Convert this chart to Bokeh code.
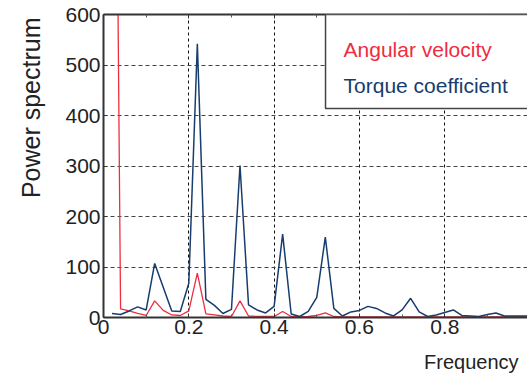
import math
from bokeh.plotting import figure
from bokeh.models import (Range1d, LinearAxis, FixedTicker, CustomJSTickFormatter,
                          BoxAnnotation, Label, Title)
from bokeh.embed import file_html
from bokeh.resources import INLINE

freq = [0.02, 0.04, 0.06, 0.08, 0.10, 0.12, 0.14, 0.16, 0.18, 0.20,
        0.22, 0.24, 0.26, 0.28, 0.30, 0.32, 0.34, 0.36, 0.38, 0.40,
        0.42, 0.44, 0.46, 0.48, 0.50, 0.52, 0.54, 0.56, 0.58, 0.60,
        0.62, 0.64, 0.66, 0.68, 0.70, 0.72, 0.74, 0.76, 0.78, 0.80,
        0.82, 0.84, 0.86, 0.88, 0.90, 0.92, 0.94, 0.96, 0.98, 1.00]

torque = [8, 6, 13, 21, 15, 107, 60, 13, 12, 68,
          542, 36, 24, 8, 16, 301, 25, 15, 9, 22,
          165, 7, 2, 12, 40, 159, 18, 3, 11, 14,
          22, 18, 9, 3, 15, 38, 11, 2, 5, 10,
          15, 4, 3, 2, 6, 9, 3, 3, 3, 3]

angular = [2000, 17, 13, 8, 4, 33, 14, 5, 4, 13,
           88, 7, 5, 3, 2, 33, 3, 2, 2, 2,
           12, 2, 1, 2, 4, 9, 2, 1, 1, 1,
           1, 1, 1, 1, 1, 1, 1, 1, 1, 1,
           1, 1, 1, 1, 1, 1, 1, 1, 1, 1]

x_ticks = [0, 0.2, 0.4, 0.6, 0.8, 1.0]
y_ticks = [0, 100, 200, 300, 400, 500, 600]
legend_labels = ["Angular velocity", "Torque coefficient"]
x_label = "Frequency"
y_label = "Power spectrum"

RED = "#ee2d40"
NAVY = "#173d6e"
FONT = "Liberation Sans"

p = figure(width=527, height=388, output_backend="svg", toolbar_location=None,
           x_range=Range1d(0, 0.994), y_range=Range1d(0, 600),
           min_border_left=103, min_border_right=0, min_border_top=14,
           min_border_bottom=71, x_axis_location=None, y_axis_location=None)
p.outline_line_color = None
p.background_fill_color = "white"
p.border_fill_color = "white"

fmt = CustomJSTickFormatter(code="return (Math.abs(tick) < 1e-9) ? '0' : (Math.abs(tick-1) < 1e-9 ? '1' : tick.toFixed(1));")
blank = CustomJSTickFormatter(code="return '';")

def style_axis(ax):
    ax.axis_line_width = 2
    ax.axis_line_color = "#333333"
    ax.major_tick_in = 4
    ax.major_tick_out = 0
    ax.minor_tick_in = 3
    ax.minor_tick_out = 0
    ax.major_tick_line_color = "#333333"
    ax.minor_tick_line_color = "#555555"
    ax.major_label_text_font = FONT
    ax.major_label_text_font_size = "21px"
    ax.major_label_text_color = "#222222"

xb = LinearAxis(ticker=FixedTicker(ticks=x_ticks, minor_ticks=[0.1, 0.3, 0.5, 0.7, 0.9]),
                formatter=fmt)
style_axis(xb)
xb.major_label_standoff = 2
p.add_layout(xb, "below")

xt = LinearAxis(ticker=FixedTicker(ticks=x_ticks, minor_ticks=[0.1, 0.3, 0.5, 0.7, 0.9]),
                formatter=blank)
style_axis(xt)
xt.major_label_standoff = 0
p.add_layout(xt, "above")

yl = LinearAxis(ticker=FixedTicker(ticks=y_ticks))
style_axis(yl)
yl.major_label_standoff = 3
p.add_layout(yl, "left")

p.xgrid.ticker = FixedTicker(ticks=x_ticks)
p.ygrid.ticker = FixedTicker(ticks=y_ticks)
p.xgrid.grid_line_color = "#111111"
p.xgrid.grid_line_dash = "3 3"
p.xgrid.grid_line_width = 1
p.ygrid.grid_line_color = "#444444"
p.ygrid.grid_line_dash = "4 3"
p.ygrid.grid_line_width = 1

p.line(freq, angular, line_color=RED, line_width=1.3)
p.line(freq, torque, line_color=NAVY, line_width=1.5)

box = BoxAnnotation(left=0.5205, right=1.2, bottom=414, top=600,
                    fill_color="white", fill_alpha=1.0,
                    line_color="#444444", line_alpha=1.0, line_width=1.5,
                    level="overlay")
p.add_layout(box)

def add_label(**kw):
    lab = Label(text_font=FONT, level="overlay", **kw)
    p.add_layout(lab)

add_label(x=0.5627, y=531, text=legend_labels[0], text_color=RED,
          text_font_size="21px", text_baseline="alphabetic")
add_label(x=0.5627, y=459, text=legend_labels[1], text_color=NAVY,
          text_font_size="21px", text_baseline="alphabetic")

xt_title = Title(text=x_label, align="right", offset=9, standoff=25, text_font=FONT,
                 text_font_size="20px", text_font_style="normal",
                 text_color="#222222")
p.add_layout(xt_title, "below")

yt_title = Title(text=y_label, align="right", offset=3, standoff=31,
                 vertical_align="top", text_font=FONT,
                 text_font_size="25px", text_font_style="normal",
                 text_color="#222222")
p.add_layout(yt_title, "left")

open("out.html", "w").write(file_html(p, INLINE))
